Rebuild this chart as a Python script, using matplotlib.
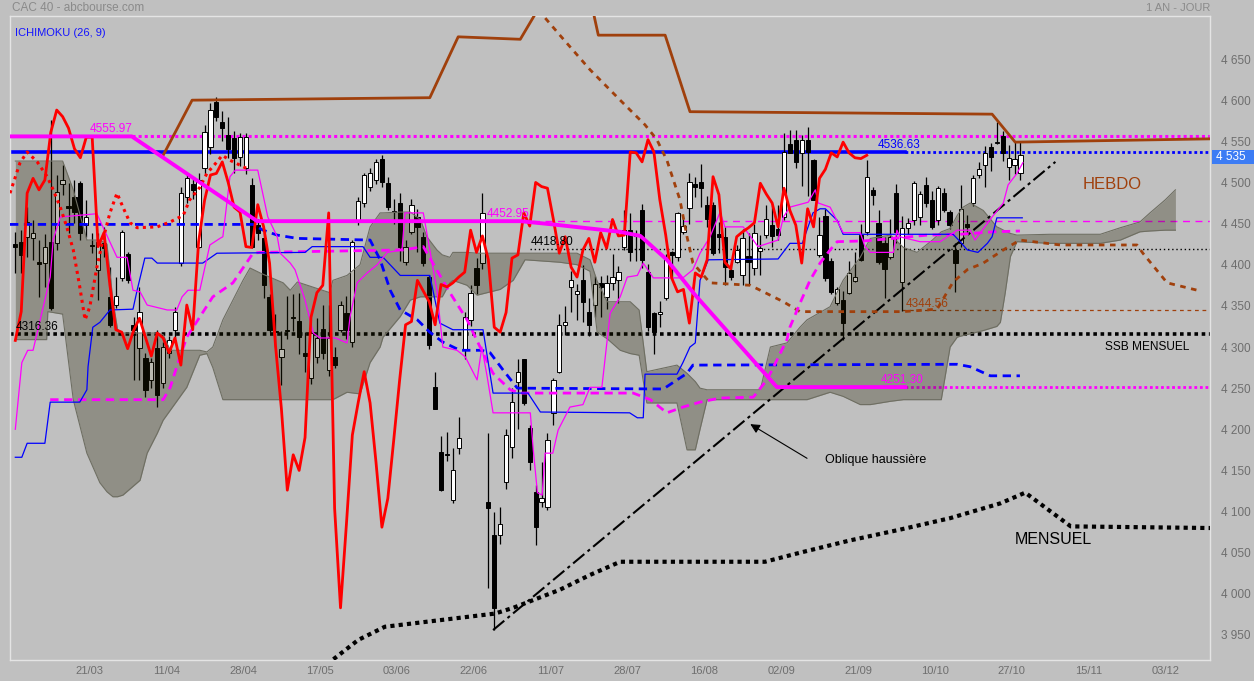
import numpy as np
import matplotlib
matplotlib.use("Agg")
import matplotlib.pyplot as plt
from matplotlib.patches import Rectangle

plt.rcParams['font.family'] = ['Liberation Sans', 'DejaVu Sans']

# ---------------- data ----------------
date_labels = ['21/03', '11/04', '28/04', '17/05', '03/06', '22/06', '11/07', '28/07',
               '16/08', '02/09', '21/09', '10/10', '27/10', '15/11', '03/12']
date_pos = [12.5, 25.5, 38.5, 51.5, 64.5, 77.5, 90.5, 103.5, 116.5, 129.5, 142.5,
            155.5, 168.5, 181.5, 194.5]
price_ticks = [3950, 4000, 4050, 4100, 4150, 4200, 4250, 4300, 4350, 4400, 4450,
               4500, 4550, 4600, 4650]

opens = [4425, 4428, 4434, 4432, 4403, 4402, 4428, 4426, 4498, 4471,
         4482, 4499, 4448, 4424, 4394, 4426, 4361, 4351, 4384, 4413,
         4327, 4299, 4287, 4260, 4299, 4256, 4293, 4321, 4402, 4482,
         4498, 4422, 4518, 4543, 4598, 4573, 4558, 4554, 4531, 4518,
         4497, 4448, 4432, 4361, 4320, 4288, 4321, 4336, 4332, 4293,
         4262, 4288, 4322, 4272, 4288, 4321, 4341, 4306, 4454, 4475,
         4494, 4503, 4528, 4499, 4465, 4475, 4403, 4440, 4458, 4434,
         4385, 4251, 4172, 4170, 4114, 4177, 4296, 4333, 4396, 4402,
         4112, 4071, 4071, 4136, 4178, 4257, 4285, 4202, 4124, 4112,
         4105, 4220, 4270, 4327, 4373, 4364, 4381, 4342, 4351, 4378,
         4361, 4378, 4381, 4422, 4442, 4437, 4466, 4391, 4341, 4340,
         4359, 4415, 4409, 4440, 4469, 4498, 4500, 4473, 4472, 4437,
         4434, 4394, 4403, 4387, 4411, 4396, 4417, 4436, 4448, 4444,
         4458, 4547, 4552, 4536, 4551, 4527, 4412, 4459, 4405, 4353,
         4357, 4366, 4380, 4436, 4440, 4491, 4451, 4426, 4409, 4487,
         4379, 4445, 4454, 4458, 4497, 4479, 4454, 4487, 4464, 4418,
         4426, 4449, 4475, 4509, 4521, 4543, 4548, 4556, 4519, 4521, 4512]
highs = [4440, 4442, 4470, 4454, 4430, 4437, 4576, 4509, 4521, 4499,
         4503, 4502, 4479, 4439, 4439, 4446, 4397, 4385, 4442, 4415,
         4336, 4373, 4293, 4287, 4321, 4306, 4313, 4349, 4495, 4512,
         4506, 4512, 4570, 4597, 4604, 4587, 4579, 4562, 4560, 4560,
         4505, 4455, 4440, 4365, 4340, 4320, 4362, 4364, 4366, 4318,
         4320, 4335, 4351, 4351, 4300, 4356, 4362, 4430, 4482, 4512,
         4517, 4529, 4533, 4507, 4480, 4487, 4430, 4480, 4468, 4440,
         4388, 4270, 4192, 4197, 4177, 4215, 4343, 4375, 4408, 4487,
         4195, 4100, 4105, 4200, 4250, 4285, 4286, 4205, 4132, 4160,
         4195, 4262, 4340, 4350, 4392, 4377, 4400, 4360, 4386, 4386,
         4387, 4413, 4398, 4466, 4463, 4442, 4474, 4401, 4342, 4356,
         4413, 4417, 4464, 4455, 4512, 4507, 4523, 4483, 4476, 4452,
         4446, 4402, 4424, 4444, 4438, 4450, 4436, 4472, 4472, 4472,
         4560, 4564, 4564, 4558, 4567, 4529, 4458, 4468, 4408, 4373,
         4368, 4405, 4415, 4449, 4527, 4495, 4466, 4434, 4456, 4498,
         4459, 4457, 4502, 4490, 4507, 4490, 4496, 4493, 4466, 4426,
         4497, 4461, 4509, 4525, 4544, 4548, 4573, 4563, 4546, 4550, 4550]
lows = [4390, 4390, 4409, 4406, 4361, 4373, 4345, 4418, 4485, 4439,
        4451, 4430, 4434, 4414, 4357, 4410, 4324, 4348, 4380, 4378,
        4260, 4260, 4239, 4250, 4227, 4250, 4287, 4311, 4398, 4475,
        4480, 4420, 4510, 4535, 4575, 4550, 4530, 4511, 4520, 4510,
        4420, 4430, 4360, 4318, 4300, 4254, 4310, 4320, 4292, 4270,
        4255, 4280, 4285, 4265, 4275, 4318, 4310, 4300, 4448, 4470,
        4490, 4498, 4495, 4466, 4450, 4405, 4400, 4437, 4415, 4398,
        4298, 4225, 4125, 4162, 4110, 4170, 4285, 4325, 4365, 4395,
        4007, 3956, 4060, 4128, 4165, 4200, 4230, 4150, 4059, 4105,
        4102, 4205, 4268, 4314, 4342, 4333, 4330, 4313, 4336, 4336,
        4346, 4369, 4353, 4418, 4405, 4405, 4396, 4320, 4292, 4324,
        4357, 4384, 4405, 4437, 4450, 4482, 4470, 4446, 4412, 4414,
        4375, 4382, 4402, 4375, 4376, 4387, 4388, 4432, 4422, 4430,
        4454, 4536, 4518, 4496, 4483, 4479, 4410, 4380, 4365, 4351,
        4309, 4364, 4379, 4405, 4436, 4473, 4401, 4360, 4407, 4426,
        4344, 4437, 4448, 4448, 4470, 4444, 4448, 4464, 4444, 4367,
        4422, 4437, 4471, 4505, 4494, 4514, 4547, 4526, 4503, 4510, 4503]
closes = [4421, 4412, 4452, 4439, 4401, 4421, 4347, 4488, 4503, 4469,
          4464, 4439, 4458, 4423, 4428, 4420, 4327, 4362, 4440, 4381,
          4321, 4343, 4248, 4282, 4242, 4300, 4308, 4343, 4487, 4505,
          4491, 4503, 4561, 4588, 4580, 4566, 4541, 4530, 4555, 4555,
          4422, 4439, 4375, 4321, 4318, 4298, 4320, 4335, 4312, 4289,
          4317, 4311, 4293, 4311, 4278, 4351, 4321, 4428, 4478, 4509,
          4511, 4525, 4500, 4470, 4464, 4422, 4421, 4473, 4446, 4402,
          4302, 4225, 4126, 4169, 4150, 4190, 4336, 4366, 4375, 4463,
          4104, 3983, 4085, 4193, 4233, 4270, 4232, 4160, 4081, 4116,
          4187, 4260, 4327, 4331, 4381, 4368, 4355, 4327, 4376, 4373,
          4378, 4385, 4391, 4442, 4415, 4435, 4406, 4324, 4318, 4342,
          4408, 4412, 4463, 4447, 4500, 4495, 4493, 4455, 4414, 4434,
          4397, 4385, 4418, 4432, 4403, 4439, 4420, 4455, 4435, 4436,
          4537, 4536, 4525, 4552, 4537, 4479, 4436, 4384, 4367, 4370,
          4329, 4390, 4385, 4406, 4507, 4485, 4403, 4395, 4434, 4440,
          4445, 4451, 4499, 4486, 4475, 4446, 4493, 4466, 4448, 4402,
          4468, 4446, 4505, 4516, 4536, 4531, 4549, 4536, 4530, 4529, 4533]

# Kumo (daily cloud) envelope
cloud_idx = [0, 5.3, 5.5, 8.0, 9.8, 12.1, 14.3, 15.5, 16.5, 17.3, 18.2, 21.1, 22.3, 24.0,
             25.0, 26.2, 29.0, 31.2, 32.4, 33.4, 35.1, 36.8, 38.5, 39.7, 41.4, 45.3, 46.5,
             47.7, 53.2, 53.7, 56.1, 58.3, 60.0, 61.7, 62.2, 65.1, 66.8, 68.5, 69.6, 71.3,
             72.2, 73.5, 74.0, 76.4, 78.1, 82.0, 84.2, 86.2, 92.1, 95.0, 97.2, 98.4, 100.1,
             102.3, 104.0, 105.5, 106.8, 111.9, 113.6, 115.0, 115.8, 117.0, 126.0, 127.7,
             130.5, 132.7, 133.9, 137.8, 140.0, 142.9, 144.6, 148.0, 150.2, 152.5, 155.1,
             156.6, 158.1, 159.3, 160.3, 161.5, 163.7, 166.0, 166.6, 167.4, 168.3, 169.4,
             175.0, 183.5, 186.9, 190.2, 191.9, 194.5, 196.2]
cloud_top = [4526, 4526, 4526, 4526, 4491, 4430, 4430, 4425, 4357, 4321, 4317, 4317, 4317, 4317,
             4315, 4296, 4296, 4296, 4294, 4300, 4333, 4357, 4381, 4396, 4390, 4378, 4369,
             4379, 4366, 4381, 4387, 4400, 4446, 4463, 4463, 4464, 4464, 4455, 4434, 4418,
             4412, 4409, 4415, 4415, 4414, 4414, 4414, 4414, 4414, 4414, 4406, 4380, 4355,
             4355, 4355, 4345, 4270, 4278, 4268, 4258, 4250, 4248, 4248, 4300,
             4305, 4324, 4333, 4349, 4381, 4409, 4432, 4436, 4421, 4415, 4430,
             4440, 4444, 4460, 4470, 4475, 4466, 4446, 4444, 4441, 4438, 4436,
             4437, 4437, 4445, 4452, 4463, 4479, 4491]
cloud_bot = [4309, 4309, 4343, 4340, 4236, 4171, 4135, 4124, 4118, 4118, 4120, 4138, 4171, 4195,
             4211, 4223, 4251, 4290, 4292, 4275, 4236, 4236, 4236, 4236, 4236, 4236, 4236,
             4236, 4236, 4236, 4245, 4243, 4281, 4300, 4312, 4337, 4357, 4361, 4361, 4361,
             4361, 4378, 4381, 4375, 4363, 4370, 4381, 4406, 4403, 4400, 4392, 4318, 4310,
             4296, 4292, 4290, 4232, 4232, 4175, 4175, 4200, 4236, 4236, 4236,
             4236, 4236, 4236, 4245, 4240, 4230, 4230, 4234, 4236, 4236, 4236,
             4236, 4300, 4312, 4314, 4316, 4320, 4325, 4330, 4365, 4410, 4428,
             4426, 4426, 4430, 4440, 4441, 4442, 4442]

# daily Kijun (thin blue)
kijun_idx = [0, 1.1, 2, 5, 5.9, 10.9, 12.1, 12.3, 13.1, 14.3, 16, 19.9, 20.6, 21.9, 23.1, 24,
             31.7, 34.1, 49, 50.2, 58.8, 60, 62.2, 65.1, 70.1, 71.8, 74, 79.1, 80.8, 86.7,
             88.8, 103.9, 105.2, 106.2, 106.5, 111.9, 112.9, 114.1, 115, 115.8, 117.2, 129,
             131, 133.1, 134.9, 136.1, 137, 139, 140, 158.6, 159.8, 161, 162.8, 164.4, 165.2,
             166, 170.3]
kijun_val = [4166, 4166, 4183, 4183, 4233, 4233, 4248, 4276, 4324, 4330, 4345, 4346, 4369, 4408,
             4408, 4402, 4402, 4414, 4415, 4422, 4422, 4409, 4409, 4387, 4387, 4329, 4321, 4321,
             4244, 4244, 4221, 4220, 4214, 4214, 4267, 4267, 4281, 4300, 4305, 4381, 4406, 4407,
             4426, 4426, 4463, 4468, 4468, 4454, 4437, 4437, 4428, 4418, 4415, 4426, 4434,
             4457, 4457]

# daily Tenkan (thin magenta)
tenkan_idx = [0, 1.1, 2.1, 3.0, 5.9, 6.4, 7.6, 13.8, 14.3, 17.2, 18.9, 19.9, 21.1, 22.3, 25.7,
              27.3, 28.2, 29.2, 31.2, 32.9, 34.6, 35.1, 36.3, 37.2, 41.0, 42.7, 44.3, 44.8,
              46.5, 47.3, 49.0, 50.4, 51.5, 54.1, 56.1, 56.6, 57.8, 59.5, 61.2, 62.9, 65.4,
              65.9, 69.0, 70.1, 71.3, 72.3, 74.7, 76.1, 78.1, 78.9, 79.8, 80.8, 87.1, 87.6,
              88.3, 89.1, 89.6, 90.9, 91.8, 93.8, 96.0, 97.2, 99.2, 100.6, 102.3, 103.5,
              105.2, 106.2, 107.9, 112.9, 114.6, 115.8, 117.5, 119.2, 120.0, 123.1, 124.8,
              125.6, 129.0, 129.9, 131.0, 134.1, 135.3, 135.8, 137.8, 140.0, 142.9, 143.7,
              144.6, 148.5, 149.1, 149.6, 153.0, 156.4, 159.3, 161.5, 162.3, 165.2, 167.1,
              167.9, 169.4, 170.4]
tenkan_val = [4200, 4281, 4296, 4296, 4385, 4430, 4458, 4462, 4454, 4409, 4409, 4369, 4367, 4351,
              4345, 4345, 4361, 4369, 4369, 4424, 4432, 4434, 4507, 4515, 4515, 4458, 4434,
              4414, 4402, 4394, 4357, 4317, 4311, 4311, 4305, 4336, 4378, 4390, 4400, 4415,
              4418, 4463, 4463, 4418, 4369, 4300, 4296, 4288, 4260, 4300, 4264, 4220, 4220,
              4175, 4123, 4120, 4171, 4171, 4199, 4227, 4230, 4251, 4251, 4341, 4361, 4385,
              4387, 4402, 4384, 4384, 4394, 4414, 4434, 4464, 4446, 4446, 4430, 4422, 4430,
              4458, 4470, 4476, 4491, 4475, 4470, 4439, 4439, 4422, 4415, 4415, 4442, 4434,
              4428, 4428, 4442, 4442, 4430, 4458, 4475, 4497, 4511, 4524]

# weekly Chikou (red dotted)
wchikou_idx = [-0.9, 0.8, 2.0, 3.7, 5.4, 6.4, 7.6, 8.7, 9.8, 10.9, 11.8, 12.6, 13.8, 14.8, 16.0,
               17.2, 18.2, 19.4, 20.6, 24.0, 26.2, 28.4, 29.5, 31.2, 32.4, 34.1, 35.0, 36.3,
               38.0, 39.7]
wchikou_val = [4487, 4524, 4537, 4525, 4507, 4491, 4470, 4446, 4418, 4373, 4333, 4349, 4397, 4430,
               4463, 4487, 4470, 4451, 4445, 4446, 4452, 4460, 4479, 4494, 4511, 4525, 4533,
               4527, 4521, 4515]

# weekly lines (HEBDO)
wssb_idx = [25.0, 29.9, 70.1, 74.9, 85.4, 89.6, 97.2, 98.6, 109.9, 114.1, 165.2, 169.1, 202.1]
wssb_val = [4533, 4600, 4603, 4677, 4674, 4725, 4725, 4679, 4679, 4586, 4583, 4549, 4553]
wssa_idx = [88.4, 92.1, 97.2, 102.3, 106.5, 108.5, 110.2, 112.4, 113.6, 114.6, 117.5, 124.3,
            129.9, 132.7, 150.2, 155.9, 158.6, 161.0, 163.7, 167.1, 169.9, 176.7, 189.7,
            190.7, 194.8, 199.9]
wssa_val = [4710, 4679, 4637, 4600, 4570, 4552, 4527, 4479, 4434, 4402, 4378, 4375, 4355, 4343,
            4343, 4346, 4379, 4394, 4402, 4418, 4430, 4424, 4424, 4414, 4378, 4369]
wtenkan_idx = [5.9, 25.0, 26.2, 27.3, 29.0, 33.4, 36.8, 40.2, 41.4, 65.6, 69.0, 73.5, 76.4, 78.6,
               80.8, 83.7, 85.4, 104.5, 107.4, 110.2, 112.9, 115.8, 119.2, 124.8, 127.1, 128.8,
               130.5, 131.0, 132.7, 134.4, 136.1, 137.8, 139.0, 143.7, 148.5, 154.2, 159.8,
               165.4, 169.9]
wtenkan_val = [4236, 4236, 4251, 4276, 4312, 4361, 4378, 4414, 4415, 4418, 4422, 4366, 4333, 4300,
               4268, 4248, 4244, 4244, 4236, 4220, 4227, 4233, 4238, 4239, 4260, 4284, 4309,
               4324, 4353, 4381, 4402, 4418, 4428, 4429, 4432, 4436, 4437, 4440, 4441]
wkijun_idx = [-0.9, 40.2, 41.9, 44.3, 47.7, 60.0, 61.7, 63.4, 65.1, 68.0, 70.1, 72.3, 75.2, 78.9,
              80.3, 82.5, 84.9, 109.6, 111.9, 113.6, 114.6, 159.3, 161.5, 164.9, 169.9]
wkijun_val = [4449, 4449, 4442, 4436, 4432, 4430, 4406, 4369, 4345, 4333, 4318, 4306, 4296, 4296,
              4293, 4272, 4250, 4249, 4260, 4268, 4278, 4279, 4276, 4265, 4265]
wkijun_thick_idx = [-0.9, 19.7, 40.9, 85.4, 90.9, 102.3, 105.7, 106.8, 110.2, 115.0, 128.8, 150.5]
wkijun_thick_val = [4555.97, 4555.97, 4452.95, 4452.95, 4449, 4440, 4435, 4428, 4406, 4363,
                    4251.30, 4251.30]

# monthly line (MENSUEL)
month_idx = [52.0, 53.7, 58.0, 62.5, 71.8, 81.1, 84.2, 92.1, 97.2, 102.3, 126.8, 132.7, 141.2,
             149.6, 158.1, 166.6, 170.8, 178.5, 202.1]
month_val = [3905, 3920, 3944, 3960, 3968, 3976, 3983, 4005, 4023, 4039, 4039, 4050, 4065,
             4078, 4092, 4110, 4123, 4082, 4080]

# support / resistance levels
lvl_4555, lvl_4536, lvl_4453 = 4555.97, 4536.63, 4452.95
lvl_4419, lvl_4345, lvl_4316, lvl_4251 = 4418.80, 4344.56, 4316.36, 4251.30
oblique_idx = [80.8, 175.9]
oblique_val = [3956, 4525]
last_price_label = '4 535'

# ---------------- figure ----------------
XMIN, XMAX = -0.9, 202.05
YMIN, YMAX = 3919.6, 4702.3
BG = '#c0c0c0'
MAG = '#ff00ff'
BLUE = '#0000ff'
BROWN = '#a0400c'
W, H = 1254, 681

fig = plt.figure(figsize=(12.54, 6.81), dpi=100, facecolor=BG)
ax = fig.add_axes([10 / W, 21 / H, 1200 / W, 644 / H], facecolor=BG)
ax.set_xlim(XMIN, XMAX)
ax.set_ylim(YMIN, YMAX)

idx = np.arange(len(closes))
o = np.array(opens, float); h = np.array(highs, float)
l = np.array(lows, float); c = np.array(closes, float)

# horizontal levels
ax.plot([19.7, XMAX], [lvl_4555] * 2, color=MAG, lw=2.2, ls=(0, (1, 1)), zorder=2)
ax.plot([85.4, XMAX], [lvl_4453] * 2, color=MAG, lw=1.0, ls=(0, (5, 4)), zorder=2)
ax.plot([150.5, XMAX], [lvl_4251] * 2, color=MAG, lw=2.0, ls=(0, (1, 1)), zorder=2)
ax.plot([XMIN, 150.5], [lvl_4536] * 2, color=BLUE, lw=2.6, zorder=2)
ax.plot([150.5, XMAX], [lvl_4536] * 2, color=BLUE, lw=2.0, ls=(0, (1, 1)), zorder=2)
ax.plot([XMIN, XMAX], [lvl_4316] * 2, color='black', lw=2.6, ls=(0, (1, 1)), zorder=2)
ax.plot([87.0, XMAX], [lvl_4419] * 2, color='black', lw=1.0, ls=(0, (1, 2)), zorder=2)
ax.plot([150.0, XMAX], [lvl_4345] * 2, color=BROWN, lw=0.9, ls=(0, (3, 3)), zorder=2)

# candles
up = c >= o
ax.vlines(idx, l, h, color='black', lw=0.9, zorder=3)
body_b = np.minimum(o, c)
body_h = np.maximum(np.abs(c - o), 1.2)
ax.bar(idx[up], body_h[up], bottom=body_b[up], width=0.72, color='white',
       edgecolor='black', lw=0.7, zorder=3.1)
ax.bar(idx[~up], body_h[~up], bottom=body_b[~up], width=0.72, color='black',
       edgecolor='black', lw=0.7, zorder=3.1)

# cloud
ax.fill_between(cloud_idx, cloud_top, cloud_bot, color=(0.13, 0.12, 0.0), alpha=0.30,
                lw=0, zorder=4)
ax.plot(cloud_idx, cloud_top, color='#6e6e62', lw=0.8, zorder=4.1)
ax.plot(cloud_idx, cloud_bot, color='#6e6e62', lw=0.8, zorder=4.1)

# indicator lines
ax.plot(month_idx, month_val, color='black', lw=3.0, ls=(0, (1, 1)), zorder=5)
ax.plot(oblique_idx, oblique_val, color='black', lw=1.5, ls=(0, (7, 2, 1.5, 2)), zorder=5)
ax.plot(wssb_idx, wssb_val, color=BROWN, lw=2.0, zorder=5)
ax.plot(wssa_idx, wssa_val, color=BROWN, lw=2.0, ls=(0, (2, 2)), zorder=5)
ax.plot(wkijun_idx, wkijun_val, color=BLUE, lw=2.0, ls=(0, (3, 2)), zorder=5)
ax.plot(wtenkan_idx, wtenkan_val, color=MAG, lw=2.0, ls=(0, (3, 2)), zorder=5)
ax.plot(kijun_idx, kijun_val, color=BLUE, lw=0.9, zorder=5.2)
ax.plot(tenkan_idx, tenkan_val, color=MAG, lw=0.9, zorder=5.2)
ax.plot(wchikou_idx, wchikou_val, color='#ff0000', lw=2.2, ls=(0, (1, 1.4)), zorder=5.3)
ax.plot(idx[:-26], c[26:], color='#ff0000', lw=2.0, zorder=5.4)
ax.plot(wkijun_thick_idx, wkijun_thick_val, color=MAG, lw=2.8, zorder=5.5)

# level labels
fs = 8.5
ax.text(12.6, lvl_4555 + 2, '4555.97', color=MAG, fontsize=fs, va='bottom', zorder=6)
ax.text(79.8, lvl_4453 + 2, '4452.95', color=MAG, fontsize=fs, va='bottom', zorder=6)
ax.text(87.1, lvl_4419 + 1, '4418.80', color='black', fontsize=fs, va='bottom', zorder=6)
ax.text(150.5, lvl_4345 + 1, '4344.56', color=BROWN, fontsize=fs, va='bottom', zorder=6)
ax.text(146.3, lvl_4251 + 1, '4251.30', color=MAG, fontsize=fs, va='bottom', zorder=6)
ax.text(145.9, lvl_4536 + 1, '4536.63', color=BLUE, fontsize=fs, va='bottom', zorder=6)
ax.text(0.0, lvl_4316 + 1, '4316.36', color='black', fontsize=fs, va='bottom', zorder=6)

ax.text(185.5, 4498, 'HEBDO', color=BROWN, fontsize=12, ha='center', va='center', zorder=6)
ax.text(175.5, 4066, 'MENSUEL', color='black', fontsize=11.5, ha='center', va='center', zorder=6)
ax.text(191.4, 4300, 'SSB MENSUEL', color='black', fontsize=8.6, ha='center', va='center', zorder=6)
ax.text(137.0, 4163, 'Oblique haussière', color='black', fontsize=9, ha='left', va='center', zorder=6)
ax.annotate('', xy=(123.9, 4208), xytext=(134.3, 4163),
            arrowprops=dict(arrowstyle='-|>', color='black', lw=0.8, mutation_scale=14),
            zorder=6)
ax.text(0.004, 0.982, 'ICHIMOKU (26, 9)', transform=ax.transAxes, color='#1414ff',
        fontsize=8, ha='left', va='top', zorder=6)

# axes styling
for s in ax.spines.values():
    s.set_color('#e4e4e4')
    s.set_linewidth(1.0)
ax.yaxis.tick_right()
ax.set_yticks(price_ticks)
ax.set_yticklabels([f"{v:,}".replace(',', ' ') for v in price_ticks])
ax.set_xticks(date_pos)
ax.set_xticklabels(date_labels)
ax.tick_params(axis='y', length=0, pad=8, labelsize=8.5, labelcolor='#6e6e6e')
ax.tick_params(axis='x', length=0, pad=4, labelsize=8, labelcolor='#6e6e6e')

# last price box on the right axis
fig.patches.append(Rectangle((1212 / W, 1 - 164 / H), 42 / W, 14 / H,
                             transform=fig.transFigure, facecolor='#3c7cf4',
                             edgecolor='none', zorder=7))
fig.text(1216 / W, 1 - 157 / H, last_price_label, color='white', fontsize=8.5,
         ha='left', va='center', zorder=8)

fig.text(12 / W, 1 - 8 / H, 'CAC 40 - abcbourse.com', color='#8a8a8a', fontsize=8.5,
         ha='left', va='center')
fig.text(1210 / W, 1 - 8 / H, '1 AN - JOUR', color='#8a8a8a', fontsize=8,
         ha='right', va='center')

fig.savefig('out.png', dpi=100, facecolor=BG)
